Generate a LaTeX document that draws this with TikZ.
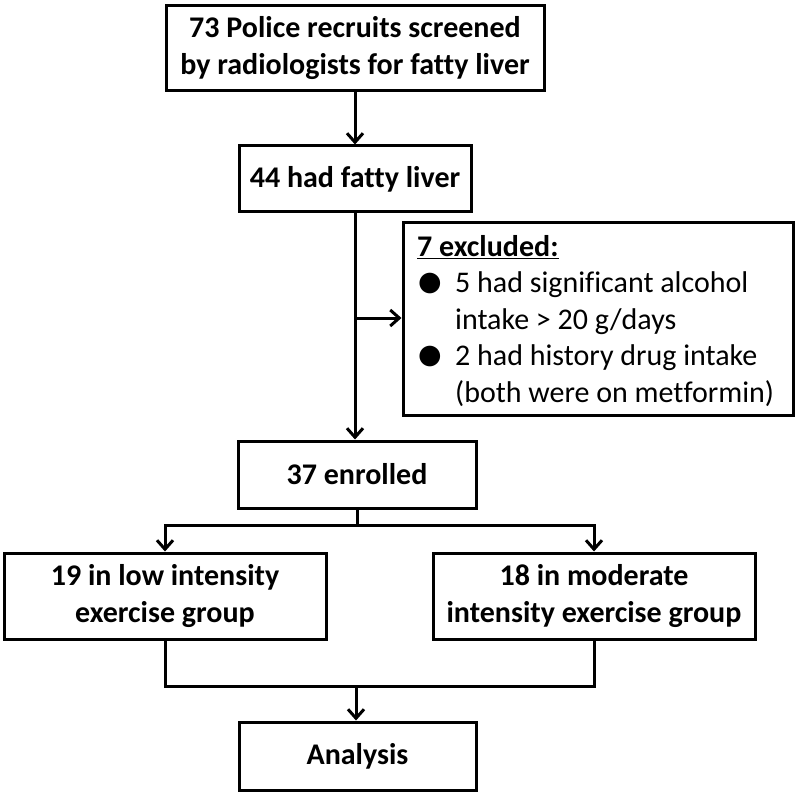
\documentclass[tikz,border=0pt]{standalone}
\usepackage{fontspec}
\setmainfont{Carlito}[Ligatures={NoCommon}]
\newfontfamily\symfont{DejaVu Sans}
\usetikzlibrary{arrows.meta}
\tikzset{
  box/.style={draw, line width=3pt, align=center, inner sep=0pt,
    font=\fontsize{30}{37}\selectfont\bfseries},
  arr/.style={-{Straight Barb[length=9pt,width=16pt]}},
  conn/.style={line width=3pt}
}
\newcommand{\blt}{\makebox[38pt][l]{\hspace{1pt}\raisebox{2pt}{\symfont\fontsize{27}{36.5}\selectfont ●}}}
\begin{document}
\begin{tikzpicture}[x=1pt,y=-1pt]
\useasboundingbox (0,0) rectangle (797,794);
\node[box, minimum width=378pt, minimum height=85pt] (top) at (355,48)
  {73 Police recruits screened\\by radiologists for fatty liver};
\node[box, minimum width=232pt, minimum height=66pt] (fat) at (355,179)
  {44 had fatty liver};
\node[box, minimum width=390pt, minimum height=192pt] (excl) at (598,319) {};
\node[anchor=west, inner sep=0pt, font=\fontsize{30}{36.4}\selectfont] (excltext) at (417,322)
  {\begin{tabular}{@{}l@{}l@{}}
   \multicolumn{2}{@{}l@{}}{\bfseries\underline{7 excluded:}}\\
   \blt & 5 had significant alcohol\\
   & intake > 20 g/days\\
   \blt & 2 had history drug intake\\
   & (both were on metformin)
   \end{tabular}};
\node[box, minimum width=238pt, minimum height=67pt] (enr) at (357,474.5)
  {37 enrolled};
\node[box, minimum width=322pt, minimum height=86pt] (low) at (165,596)
  {19 in low intensity\\exercise group};
\node[box, minimum width=322pt, minimum height=86pt] (mod) at (594,596)
  {18 in moderate\\intensity exercise group};
\node[box, minimum width=237pt, minimum height=68pt] (ana) at (357.5,756)
  {Analysis};
\coordinate (j1) at (355,318);
\coordinate (split) at (357,525);
\coordinate (merge) at (356,686);
\draw[conn, arr] (top.south) -- (fat.north);
\draw[conn, arr] (fat.south) -- (fat.south |- enr.north);
\draw[conn, arr] (j1) -- (j1 -| excl.west);
\draw[conn] (enr.south) -- (split);
\draw[conn, arr] (split) -| (low.north);
\draw[conn, arr] (split) -| (mod.north);
\draw[conn] (low.south) |- (mod.south |- merge) -- (mod.south);
\draw[conn, arr] (merge) -- (merge |- ana.north);
\end{tikzpicture}
\end{document}
